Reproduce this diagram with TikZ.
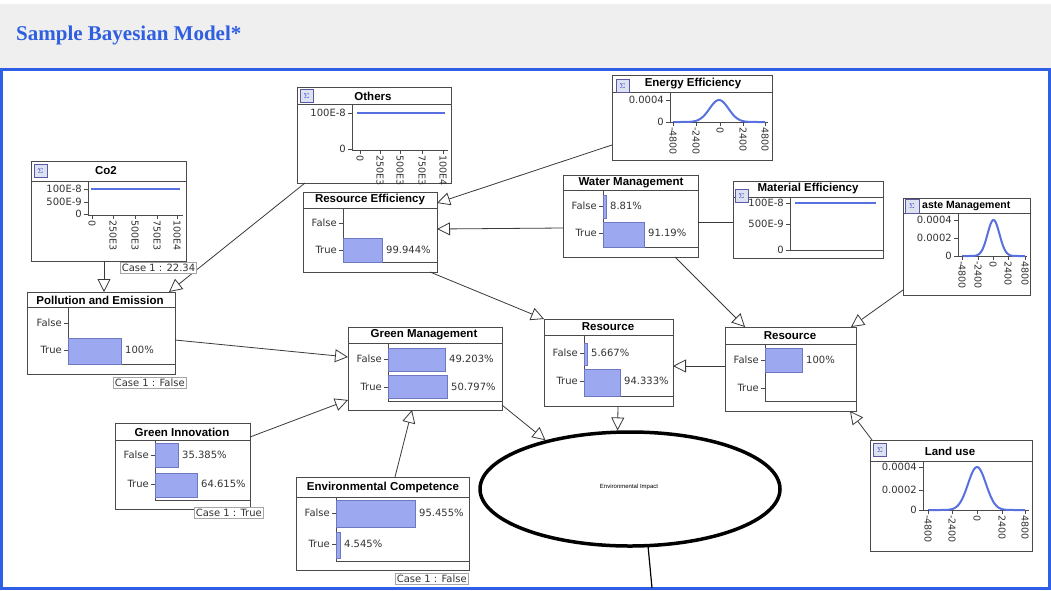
\documentclass[tikz,border=0pt]{standalone}
\usepackage{fontspec}
\setsansfont{Liberation Sans}
\newfontfamily\titleserif{Liberation Serif}
\newfontfamily\labfont{DejaVu Sans}
\usetikzlibrary{arrows.meta,shapes.geometric}

\definecolor{framec}{HTML}{2F5FE6}
\definecolor{titlec}{HTML}{2F5FE0}
\definecolor{bandc}{HTML}{EFEFEF}
\definecolor{boxc}{HTML}{4A4A4A}
\definecolor{barc}{HTML}{9CA8F0}
\definecolor{bard}{HTML}{6E78C0}
\definecolor{curvec}{HTML}{5870E0}
\definecolor{linec}{HTML}{3A3A3A}
\definecolor{labc}{HTML}{333333}
\definecolor{iconc}{HTML}{DCE2F0}

\newcommand\mkbox[5]{\node[box, minimum width={(#4)-(#2)}, minimum height={(#5)-(#3)}] (#1) at (#2,#3) {};}
\newcommand\brow[3]{\node[lab, anchor=east] at ({#1-6},#2) {#3};\draw[axis] ({#1-4},#2) -- (#1,#2);}
\newcommand\bbar[6]{\draw[barf] (#1,#2) rectangle (#3,#4);\node[lab, anchor=west] at ({#3+4},#6) {#5};}
\newcommand\ylab[3]{\node[lab, anchor=east] at ({#1-6},#2) {#3};\draw[axis] ({#1-4},#2) -- (#1,#2);}
\newcommand\xlab[3]{\draw[axis] (#1,#2) -- (#1,{#2+4});\node[rlab] at (#1,{#2+5}) {#3};}

\begin{document}
\begin{tikzpicture}[x=1pt,y=-1pt,
  box/.style={draw=boxc, line width=0.9pt, fill=white, inner sep=0pt, outer sep=0pt, anchor=north west},
  ttl/.style={font=\sffamily\bfseries\fontsize{11.5}{12}\selectfont, inner sep=0pt},
  lab/.style={font=\labfont\fontsize{10}{12}\selectfont, text=labc, inner sep=0pt},
  rlab/.style={font=\labfont\fontsize{9.5}{11}\selectfont, text=labc, inner sep=0pt, rotate=-90, anchor=west},
  axis/.style={draw=boxc, line width=0.8pt},
  barf/.style={fill=barc, draw=bard, line width=0.6pt},
  curve/.style={draw=curvec, line width=2pt, line join=round},
  conn/.style={draw=linec, line width=0.8pt, -{Triangle[open, length=13pt, width=13pt, line width=0.8pt]}},
  link/.style={draw=linec, line width=0.8pt},
  casel/.style={draw=gray!70, line width=0.6pt, fill=white, font=\labfont\fontsize{10}{11}\selectfont, text=labc, inner sep=1.5pt, anchor=north west},
  icon/.style={draw=gray!70!blue, fill=iconc, line width=0.5pt, minimum size=13pt, inner sep=0pt, font=\fontsize{7}{7}\selectfont, text=blue!60!gray}
]
\useasboundingbox (0,0) rectangle (1051,590);
\fill[white] (0,0) rectangle (1051,590);
\fill[bandc] (0,4) rectangle (1051,68);
\node[font=\titleserif\bfseries\fontsize{21}{22}\selectfont, text=titlec, anchor=base west, inner sep=0pt] (title) at (16,40) {Sample Bayesian Model*};
\draw[framec, line width=3pt] (1.5,69.5) rectangle (1049.5,588.5);

% Co2
\mkbox{co2}{31}{161}{186}{261}
\draw[axis] (31,181) -- (186,181);
\node[ttl] (co2t) at (106,171) {Co2};
\draw[axis] (88,181) -- (88,215) -- (183,215);
\draw[curve] (91,189) -- (180,189);
\ylab{88}{189}{100E-8}\ylab{88}{202}{500E-9}\ylab{88}{214}{0}
\xlab{92}{215}{0}\xlab{113}{215}{250E3}\xlab{135}{215}{500E3}\xlab{157}{215}{750E3}\xlab{177}{215}{100E4}
\node[icon] (co2i) at (40.5,171) {$\Sigma$};

% Others
\mkbox{others}{297}{87}{451}{183}
\draw[axis] (297,104) -- (451,104);
\node[ttl] (otherst) at (373,96) {Others};
\draw[axis] (352,104) -- (352,150) -- (448,150);
\draw[curve] (357,113) -- (445,113);
\ylab{352}{113}{100E-8}\ylab{352}{149}{0}
\xlab{360}{150}{0}\xlab{380}{150}{250E3}\xlab{400}{150}{500E3}\xlab{422}{150}{750E3}\xlab{443}{150}{100E4}
\node[icon] (othersi) at (306.5,96) {$\Sigma$};

% Energy Efficiency
\mkbox{energy}{612}{75}{772}{160}
\draw[axis] (612,92) -- (772,92);
\node[ttl] (energyt) at (693,84) {Energy Efficiency};
\draw[axis] (670,92) -- (670,122) -- (768,122);
\ylab{670}{100}{0.0004}\ylab{670}{122}{0}
\draw[curve] plot[domain=-46:46, samples=90, variable=\t] ({719+\t},{122-22*exp(-0.5*(\t/9.5)^2)});
\xlab{673}{122}{-4800}\xlab{696}{122}{-2400}\xlab{720}{122}{0}\xlab{743}{122}{2400}\xlab{765}{122}{4800}
\node[icon] (energyi) at (622.5,86) {$\Sigma$};

% Resource Efficiency
\mkbox{reseff}{303}{192}{437}{272}
\draw[axis] (303,208) -- (437,208);
\node[ttl] (resefft) at (370,200) {Resource Efficiency};
\draw[axis] (343,208) -- (343,262) -- (437,262);
\brow{343}{223}{False}\brow{343}{250}{True}
\bbar{343}{238}{382}{262}{99.944\%}{250}

% Water Management
\mkbox{water}{563}{175}{698}{257}
\draw[axis] (563,190) -- (698,190);
\node[ttl] (watert) at (631,183) {Water Management};
\draw[axis] (603,190) -- (603,247) -- (698,247);
\brow{603}{206}{False}\brow{603}{233}{True}
\bbar{603}{195}{606}{218}{8.81\%}{206}
\bbar{603}{222}{644}{247}{91.19\%}{233}

% Material Efficiency
\mkbox{mateff}{733}{181}{883}{258}
\draw[axis] (733,197) -- (883,197);
\node[ttl] (mateftt) at (808,189) {Material Efficiency};
\draw[axis] (790,197) -- (790,250) -- (883,250);
\draw[curve] (795,203) -- (876,203);
\ylab{790}{203}{100E-8}\ylab{790}{224}{500E-9}\ylab{790}{250}{0}
\node[icon] (matefi) at (741.5,196) {$\Sigma$};

% Waste Management
\mkbox{waste}{903}{198}{1030}{295}
\draw[axis] (903,213) -- (1030,213);
\node[ttl, font=\sffamily\bfseries\fontsize{10.5}{11}\selectfont, anchor=west] (wastet) at (922,206) {aste Management};
\draw[axis] (958,213) -- (958,256) -- (1027,256);
\ylab{958}{220}{0.0004}\ylab{958}{238}{0.0002}\ylab{958}{256}{0}
\draw[curve] plot[domain=-31.5:31.5, samples=90, variable=\t] ({993.5+\t},{256-36*exp(-0.5*(\t/6)^2)});
\xlab{962}{256}{-4800}\xlab{978}{256}{-2400}\xlab{993}{256}{0}\xlab{1008}{256}{2400}\xlab{1025}{256}{4800}
\node[icon, minimum size=14pt] (wastei) at (912,206) {$\Sigma$};

% Pollution and Emission
\mkbox{poll}{27}{292}{175}{374}
\draw[axis] (27,307) -- (175,307);
\node[ttl] (pollt) at (100,300) {Pollution and Emission};
\draw[axis] (68,307) -- (68,364) -- (175,364);
\brow{68}{323}{False}\brow{68}{350}{True}
\bbar{68}{338}{121}{364}{100\%}{350}

% Green Management
\mkbox{gm}{348}{327}{502}{410}
\draw[axis] (348,343) -- (502,343);
\node[ttl] (gmt) at (424,335) {Green Management};
\draw[axis] (388,343) -- (388,401) -- (502,401);
\brow{388}{359}{False}\brow{388}{387}{True}
\bbar{388}{348}{445}{371}{49.203\%}{359}
\bbar{388}{375}{447}{398}{50.797\%}{387}

% Resource (centre)
\mkbox{resc}{544}{319}{673}{406}
\draw[axis] (544,335) -- (673,335);
\node[ttl] (resct) at (608,327) {Resource};
\draw[axis] (584,335) -- (584,396) -- (673,396);
\brow{584}{353}{False}\brow{584}{381}{True}
\bbar{584}{343}{587}{365}{5.667\%}{353}
\bbar{584}{369}{620}{396}{94.333\%}{381}

% Resource (right)
\mkbox{resr}{725}{327}{856}{411}
\draw[axis] (725,344) -- (856,344);
\node[ttl] (resrt) at (790,336) {Resource};
\draw[axis] (765,344) -- (765,401) -- (856,401);
\brow{765}{360}{False}\brow{765}{388}{True}
\bbar{765}{348}{802}{372}{100\%}{360}

% Green Innovation
\mkbox{gi}{115}{423}{250}{509}
\draw[axis] (115,440) -- (250,440);
\node[ttl] (git) at (182,432) {Green Innovation};
\draw[axis] (155,440) -- (155,500) -- (250,500);
\brow{155}{455}{False}\brow{155}{484}{True}
\bbar{155}{443}{178}{467}{35.385\%}{455}
\bbar{155}{473}{197}{497}{64.615\%}{484}

% Environmental Competence
\mkbox{ec}{296}{477}{469}{570}
\draw[axis] (296,497) -- (469,497);
\node[ttl] (ect) at (383,488) {Environmental Competence};
\draw[axis] (336,497) -- (336,561) -- (469,561);
\brow{336}{513}{False}\brow{336}{544}{True}
\bbar{336}{500}{415}{527}{95.455\%}{513}
\bbar{336}{532}{340}{558}{4.545\%}{544}

% Land use
\mkbox{land}{870}{440}{1032}{551}
\draw[axis] (870,461) -- (1032,461);
\node[ttl] (landt) at (950,451) {Land use};
\draw[axis] (923,461) -- (923,510) -- (1029,510);
\ylab{923}{467}{0.0004}\ylab{923}{490}{0.0002}\ylab{923}{510}{0}
\draw[curve] plot[domain=-49:48, samples=90, variable=\t] ({977+\t},{510-43*exp(-0.5*(\t/9)^2)});
\xlab{928}{510}{-4800}\xlab{952}{510}{-2400}\xlab{977}{510}{0}\xlab{1002}{510}{2400}\xlab{1025}{510}{4800}
\node[icon] (landi) at (880,450) {$\Sigma$};

% Environmental Impact
\node[draw=black, ellipse, line width=3.5pt, fill=white, minimum width=300pt, minimum height=114pt, inner sep=0pt] (ei) at (630,489) {};
\node[font=\sffamily\fontsize{6}{7}\selectfont] (eit) at (629,487) {Environmental Impact};
\coordinate (eiend) at (652,588);
\draw[black, line width=1.2pt] ([xshift=18pt,yshift=2pt]ei.south) -- (eiend);

% connectors
\draw[conn] ([xshift=73pt]co2.south west) -- ([xshift=77pt]poll.north west);
\draw[conn] ([xshift=8pt]others.south west) -- ([xshift=-6pt]poll.north east);
\draw[conn] ([yshift=15pt]energy.south west) -- ([yshift=-11pt]reseff.north east);
\draw[conn] ([yshift=-53pt]water.north west) -- ([yshift=-37pt]reseff.north east);
\draw[link] ([yshift=-47pt]water.north east) -- ([yshift=-41pt]mateff.north west);
\draw[conn] ([xshift=-23pt]water.south east) -- ([xshift=20pt]resr.north west);
\draw[conn] ([yshift=5pt]waste.south west) -- ([xshift=-5pt]resr.north east);
\draw[conn] ([xshift=-7pt]reseff.south east) -- (resc.north west);
\draw[conn] ([yshift=-39pt]resr.north west) -- ([yshift=-47pt]resc.north east);
\draw[conn] ([xshift=2pt]land.north west) -- ([xshift=-6pt]resr.south east);
\draw[conn] ([yshift=-48pt]poll.north east) -- ([yshift=-30pt]gm.north west);
\draw[conn] ([yshift=-14pt]gi.north east) -- ([yshift=-73pt]gm.north west);
\draw[conn] ([xshift=99pt]ec.north west) -- ([xshift=64pt]gm.south west);
\draw[conn] ([yshift=5pt]gm.south east) -- (ei.150);
\draw[conn] ([xshift=74pt]resc.south west) -- (ei.102);

% case labels
\node[casel] (co2c) at (120,262) {Case 1 : 22.34};
\node[casel] (pollc) at (113,377) {Case 1 : False};
\node[casel] (gic) at (194,507) {Case 1 : True};
\node[casel] (ecc) at (395,573) {Case 1 : False};
\end{tikzpicture}
\end{document}
